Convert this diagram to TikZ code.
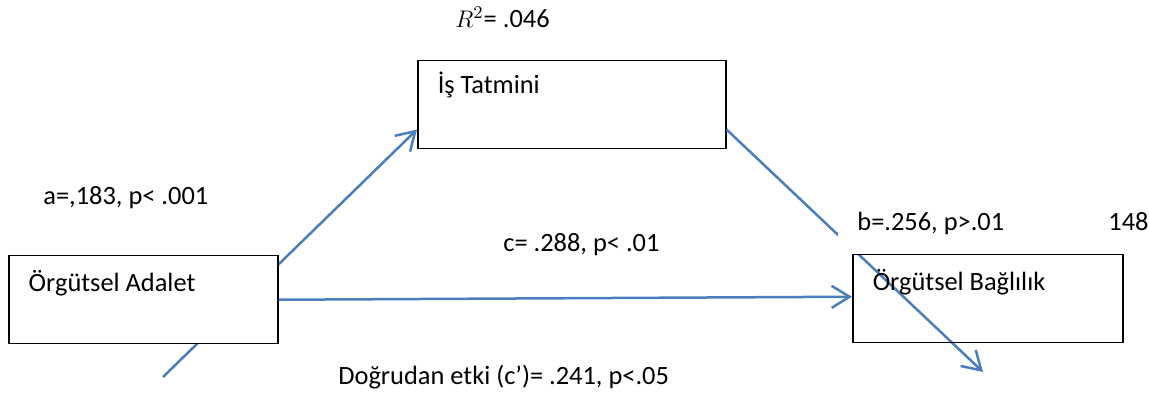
\documentclass[tikz,border=0pt]{standalone}
\usepackage{fontspec}
\setmainfont{Carlito}
\usepackage{tikz}
\usetikzlibrary{arrows.meta}
\definecolor{PathBlue}{RGB}{74, 126, 189}

\tikzset{
  varbox/.style={draw, fill=white, line width=0.75pt, anchor=north west, align=flush left,
    inner xsep=10pt, inner ysep=0pt, text height=18pt, text depth=26pt,
    font=\fontsize{13.2}{16}\selectfont},
  lbl/.style={anchor=base west, inner sep=0pt, font=\fontsize{13.2}{16}\selectfont},
  path/.style={draw=PathBlue, line width=1.25pt},
  tip/.style={-{Straight Barb[length=9pt, width=11pt]}}
}

\begin{document}
\begin{tikzpicture}[x=0.5pt, y=0.5pt]
    \useasboundingbox (0,0) rectangle (1149,394);

    % Mediator
    \node[varbox, text width=134pt, text height=16.4pt, text depth=27.6pt] (ij) at (417,334) {İş Tatmini};
    \node[lbl] (r2) at (455,366.5) {$R^2$= .046};

    % a path (runs under the predictor box)
    \coordinate (atail) at (163,17);
    \draw[path, tip] (atail) -- ([yshift=10pt]ij.south west);

    % Predictor
    \node[varbox, text width=114.5pt] (oa) at (8,139) {Örgütsel Adalet};
    \node[lbl] (alab) at (43,189) {a=,183, p< .001};

    % b path
    \coordinate (bhead) at (983,22);
    \draw[path, tip] ([yshift=10pt]ij.south east) -- (bhead);
    \node[lbl, fill=white, anchor=south west, inner xsep=9.5pt, inner ysep=0pt, text depth=11.75pt] (blab) at (838,140) {b=.256, p>.01};
    \node[lbl] (nlab) at (1108,163.5) {148};

    % Outcome
    \node[varbox, fill=none, text width=115pt] (ob) at (852,140) {Örgütsel Bağlılık};

    % c path
    \draw[path, tip] (oa.east) -- ([yshift=1pt]ob.west);
    \node[lbl] (clab) at (503,142) {c= .288, p< .01};
    \node[lbl] (dlab) at (338,9) {Doğrudan etki (c’)= .241, p<.05};
\end{tikzpicture}
\end{document}
